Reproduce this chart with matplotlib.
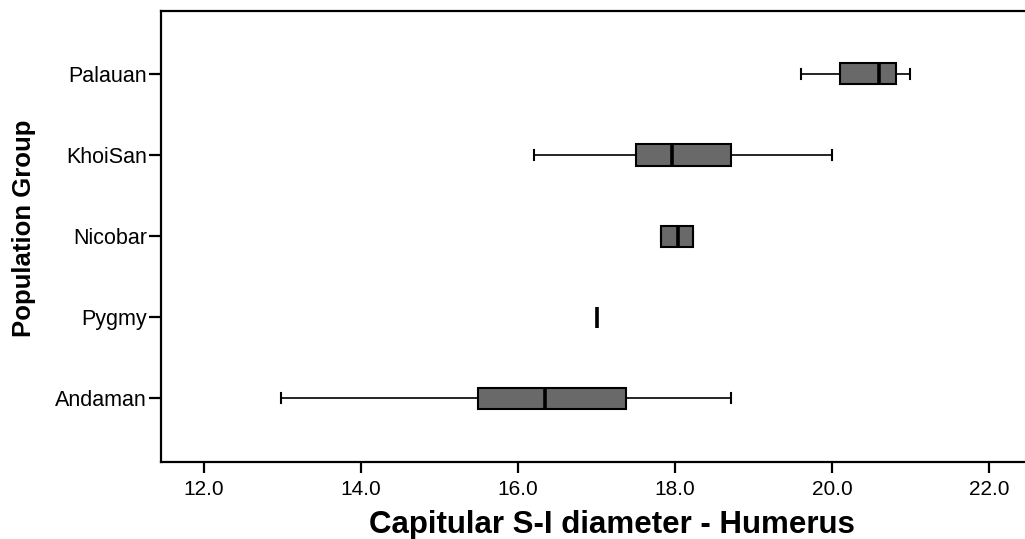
import matplotlib
matplotlib.use("Agg")
import matplotlib.pyplot as plt

# data (bottom to top)
groups = ["Andaman", "Pygmy", "Nicobar", "KhoiSan", "Palauan"]
whis_lo = [12.98, 17.0, 17.82, 16.20, 19.60]
q1 = [15.49, 17.0, 17.82, 17.50, 20.10]
medians = [16.34, 17.0, 18.04, 17.96, 20.60]
q3 = [17.38, 17.0, 18.23, 18.71, 20.82]
whis_hi = [18.71, 17.0, 18.23, 20.00, 21.00]
xticks = [12.0, 14.0, 16.0, 18.0, 20.0, 22.0]

plt.rcParams["font.family"] = ["Liberation Sans", "DejaVu Sans"]

fig = plt.figure(figsize=(10.25, 5.39), dpi=100)
ax = fig.add_axes([161 / 1025, 1 - 461.5 / 539, 875 / 1025, 450.8 / 539])

stats = []
for i, g in enumerate(groups):
    stats.append({"label": g, "whislo": whis_lo[i], "q1": q1[i], "med": medians[i],
                  "q3": q3[i], "whishi": whis_hi[i], "fliers": []})

ax.bxp(stats, positions=range(len(groups)), orientation="horizontal",
       widths=0.26, capwidths=0.12, patch_artist=True, showfliers=False,
       boxprops=dict(facecolor="#696969", edgecolor="black", linewidth=1.5),
       medianprops=dict(color="black", linewidth=2.6, solid_capstyle="butt"),
       whiskerprops=dict(color="black", linewidth=1.2),
       capprops=dict(color="black", linewidth=1.5))

ax.set_xlim(11.45, 22.6)
ax.set_ylim(-0.78, 4.78)
ax.set_xticks(xticks)
ax.set_xticklabels([f"{v:.1f}" for v in xticks])
ax.set_yticks(range(len(groups)))
ax.set_yticklabels(groups)

for s in ax.spines.values():
    s.set_linewidth(1.6)
    s.set_color("black")

ax.tick_params(axis="y", length=9, width=1.6, pad=1, labelsize=15.5)
ax.tick_params(axis="x", length=8, width=1.6, pad=5, labelsize=15)

ax.set_xlabel("Capitular S-I diameter - Humerus", fontsize=22.5, fontweight="bold")
ax.xaxis.set_label_coords(0.515, -0.107)
ax.set_ylabel("Population Group", fontsize=18.5, fontweight="bold")
ax.yaxis.set_label_coords(-0.143, 0.518)

fig.savefig("out.png", dpi=100)
